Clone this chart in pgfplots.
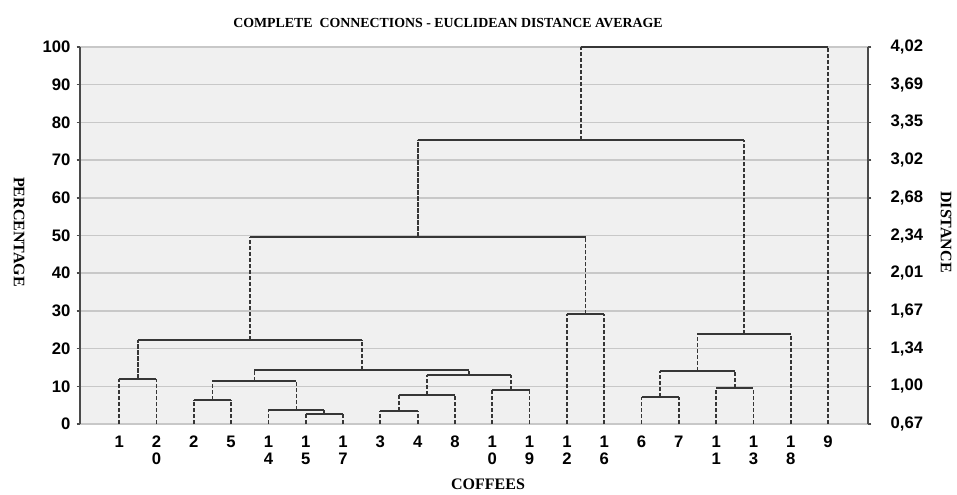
\documentclass[border=0pt]{standalone}
\usepackage{fontspec}
\setmainfont{Liberation Serif}
\setsansfont{Liberation Sans}
\usepackage{pgfplots}
\usepackage{pgfplotstable}
\pgfplotsset{compat=1.18}
\definecolor{bgc}{HTML}{F0F0F0}
\definecolor{gridc}{HTML}{C8C8C8}
\definecolor{linec}{HTML}{363636}
\definecolor{axc}{HTML}{4A4A4A}
\pgfplotstableread{
x y
0 0
0 12
nan nan
1 0
1 12
nan nan
2 0
2 6.4
nan nan
3 0
3 6.4
nan nan
4 0
4 3.7
nan nan
5 0
5 2.6
nan nan
6 0
6 2.6
nan nan
7 0
7 3.4
nan nan
8 0
8 3.4
nan nan
9 0
9 7.7
nan nan
10 0
10 9.0
nan nan
11 0
11 9.0
nan nan
12 0
12 29.1
nan nan
13 0
13 29.1
nan nan
14 0
14 7.1
nan nan
15 0
15 7.1
nan nan
16 0
16 9.5
nan nan
17 0
17 9.5
nan nan
18 0
18 23.8
nan nan
19 0
19 100
nan nan
0.5 12
0.5 22.3
nan nan
2.5 6.4
2.5 11.4
nan nan
5.5 2.6
5.5 3.7
nan nan
4.75 3.7
4.75 11.4
nan nan
3.625 11.4
3.625 14.3
nan nan
7.5 3.4
7.5 7.7
nan nan
8.25 7.7
8.25 13.0
nan nan
10.5 9.0
10.5 13.0
nan nan
9.375 13.0
9.375 14.3
nan nan
6.5 14.3
6.5 22.3
nan nan
3.5 22.3
3.5 49.7
nan nan
12.5 29.1
12.5 49.7
nan nan
8 49.7
8 75.3
nan nan
14.5 7.1
14.5 14.1
nan nan
16.5 9.5
16.5 14.1
nan nan
15.5 14.1
15.5 23.8
nan nan
16.75 23.8
16.75 75.3
nan nan
12.375 75.3
12.375 100
}\vsegs
\pgfplotstableread{
x y
0 12
1 12
nan nan
2 6.4
3 6.4
nan nan
5 2.6
6 2.6
nan nan
4 3.7
5.5 3.7
nan nan
2.5 11.4
4.75 11.4
nan nan
7 3.4
8 3.4
nan nan
7.5 7.7
9 7.7
nan nan
10 9.0
11 9.0
nan nan
8.25 13.0
10.5 13.0
nan nan
3.625 14.3
9.375 14.3
nan nan
0.5 22.3
6.5 22.3
nan nan
12 29.1
13 29.1
nan nan
3.5 49.7
12.5 49.7
nan nan
14 7.1
15 7.1
nan nan
16 9.5
17 9.5
nan nan
14.5 14.1
16.5 14.1
nan nan
15.5 23.8
18 23.8
nan nan
8 75.3
16.75 75.3
nan nan
12.375 100
19 100
}\hsegs
\begin{document}
\begin{tikzpicture}
\useasboundingbox (0,0) rectangle (717.75pt,370.5pt);
\pgfplotsset{
  common/.style={
    at={(60pt,52.5pt)}, anchor=south west,
    scale only axis, width=591pt, height=282.75pt,
    xmin=-1.05, xmax=20.07, ymin=0, ymax=100,
    ytick={0,10,...,100},
    tick align=outside,
    major tick length=2.5pt,
    tick style={draw=axc, line width=1.1pt},
    yticklabel style={font=\sffamily\bfseries\fontsize{12.5}{14}\selectfont},
  }
}
\begin{axis}[common,
  axis background/.style={fill=bgc},
  axis y line*=left,
  axis x line*=bottom,
  x axis line style={draw=none},
  y axis line style={draw=axc, line width=1.4pt},
  ymajorgrids, grid style={gridc, line width=1.1pt},
  xtick={0,...,19},
  xticklabels={1,{2\\0},2,5,{1\\4},{1\\5},{1\\7},3,4,8,{1\\0},{1\\9},{1\\2},{1\\6},6,7,{1\\1},{1\\3},{1\\8},9},
  xtick style={draw=none},
  xticklabel style={font=\sffamily\bfseries\fontsize{12.5}{13.2}\selectfont, align=center, anchor=north, inner sep=0pt, yshift=-6pt},
  yticklabels={0,10,20,30,40,50,60,70,80,90,100},
  yticklabel style={xshift=-1.2pt},
  unbounded coords=jump,
  clip=false,
]
\addplot[linec, line width=1.35pt, dash pattern=on 3.2pt off 1.3pt] table[x=x,y=y] {\vsegs};
\addplot[linec, line width=1.35pt] table[x=x,y=y] {\hsegs};
\end{axis}
\begin{axis}[common,
  axis y line*=right,
  axis x line=none,
  y axis line style={draw=axc, line width=1.4pt},
  yticklabels={{0,67},{1,00},{1,34},{1,67},{2,01},{2,34},{2,68},{3,02},{3,35},{3,69},{4,02}},
  yticklabel style={xshift=11pt},
]
\end{axis}
\node[font=\bfseries\fontsize{10.4}{12}\selectfont] at (336pt,353pt) {COMPLETE\ \ CONNECTIONS - EUCLIDEAN DISTANCE AVERAGE};
\node[font=\bfseries\fontsize{12}{14}\selectfont] at (366pt,7pt) {COFFEES};
\node[font=\bfseries\fontsize{12}{14}\selectfont, rotate=-90] at (14.25pt,196.5pt) {PERCENTAGE};
\node[font=\bfseries\fontsize{12}{14}\selectfont, rotate=-90] at (709.5pt,196.5pt) {DISTANCE};
\end{tikzpicture}
\end{document}
